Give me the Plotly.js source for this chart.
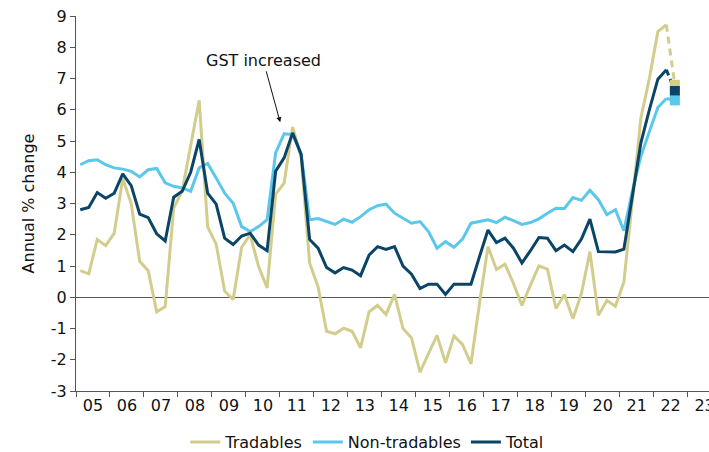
<!DOCTYPE html>
<html>
<head>
<meta charset="utf-8">
<script src="https://cdn.plot.ly/plotly-3.0.1.min.js"></script>
<style>html,body{margin:0;padding:0;background:#fff;}#chart{width:709px;height:452px;}</style>
</head>
<body>
<div id="chart"></div>
<script>
// Quarterly annual % change, 2005 Q1 to 2022 Q2
const startYear = 2005;
const tradables = [
  0.85, 0.75, 1.85, 1.65,
  2.05, 3.8, 3.0, 1.15,
  0.85, -0.47, -0.3, 2.85,
  3.4, 4.8, 6.3, 2.25,
  1.7, 0.2, -0.07, 1.6,
  2.0, 0.98, 0.3, 3.3,
  3.65, 5.45, 4.5, 1.1,
  0.33, -1.09, -1.17, -0.99,
  -1.09, -1.62, -0.47, -0.26,
  -0.55, 0.09, -1.0, -1.3,
  -2.4, -1.8, -1.22, -2.1,
  -1.24, -1.51, -2.13, -0.2,
  1.62, 0.89, 1.06, 0.44,
  -0.26, 0.39, 1.0, 0.9,
  -0.36, 0.09, -0.69, 0.12,
  1.46, -0.58, -0.1, -0.29,
  0.49, 3.1, 5.74, 7.0,
  8.5, 8.72
];
const nonTradables = [
  4.24, 4.37, 4.4, 4.24,
  4.14, 4.1, 4.03, 3.85,
  4.08, 4.12, 3.66, 3.55,
  3.5, 3.39, 4.14, 4.28,
  3.82, 3.33, 3.01, 2.26,
  2.1, 2.26, 2.48, 4.62,
  5.23, 5.21, 4.6, 2.48,
  2.52, 2.42, 2.33, 2.5,
  2.4, 2.58, 2.8, 2.93,
  2.98, 2.69, 2.53, 2.37,
  2.42, 2.1, 1.57, 1.78,
  1.6, 1.86, 2.37, 2.43,
  2.48, 2.39, 2.56, 2.45,
  2.33, 2.39, 2.51, 2.69,
  2.85, 2.84, 3.19, 3.1,
  3.42, 3.12, 2.64, 2.8,
  2.13, 3.4, 4.51, 5.3,
  6.07, 6.36
];
const total = [
  2.8, 2.87, 3.35, 3.17,
  3.33, 3.95, 3.57, 2.66,
  2.55, 2.03, 1.8, 3.2,
  3.39, 4.0, 5.05, 3.33,
  2.98, 1.89, 1.69, 1.96,
  2.05, 1.67, 1.49, 4.03,
  4.46, 5.26, 4.57, 1.85,
  1.57, 0.95, 0.78, 0.95,
  0.87, 0.69, 1.35, 1.62,
  1.53, 1.62, 1.0, 0.74,
  0.28, 0.42, 0.42, 0.09,
  0.42, 0.42, 0.42, 1.3,
  2.15, 1.75, 1.89, 1.57,
  1.1, 1.49, 1.91, 1.89,
  1.49, 1.67, 1.46, 1.86,
  2.5, 1.46, 1.45, 1.45,
  1.54, 3.3, 4.94, 6.0,
  6.98, 7.28
];
// September 2022 quarter estimates
const estTradables = 6.8;
const estNonTradables = 6.3;
const estTotal = 6.6;

const yearLabels = ['05','06','07','08','09','10','11','12','13','14','15','16','17','18','19','20','21','22','23'];
const yTicks = [-3,-2,-1,0,1,2,3,4,5,6,7,8,9];

const cTan = '#D3CD8D', cLight = '#5BC7EA', cDark = '#0A4467';
const qx = tradables.map((_, i) => startYear + (i + 0.5) / 4);
const lastX = qx[qx.length - 1];
const estX = lastX + 0.25;
const n = tradables.length - 1;

const traces = [
  {x: qx, y: tradables, name: 'Tradables', mode: 'lines', line: {color: cTan, width: 3}},
  {x: qx, y: nonTradables, name: 'Non-tradables', mode: 'lines', line: {color: cLight, width: 3}},
  {x: qx, y: total, name: 'Total', mode: 'lines', line: {color: cDark, width: 3}},
  {x: [lastX, estX], y: [nonTradables[n], estNonTradables], mode: 'lines', showlegend: false, hoverinfo: 'skip', line: {color: cLight, width: 3, dash: '6px,4px'}},
  {x: [lastX, estX], y: [total[n], estTotal], mode: 'lines', showlegend: false, hoverinfo: 'skip', line: {color: cDark, width: 3, dash: '6px,4px'}},
  {x: [lastX, estX], y: [tradables[n], estTradables], mode: 'lines', showlegend: false, hoverinfo: 'skip', line: {color: cTan, width: 3, dash: '7px,5px'}},
  {x: [estX], y: [estTradables], mode: 'markers', showlegend: false, marker: {symbol: 'square', size: 10, color: cTan}},
  {x: [estX], y: [estTotal], mode: 'markers', showlegend: false, marker: {symbol: 'square', size: 10, color: cDark}},
  {x: [estX], y: [estNonTradables], mode: 'markers', showlegend: false, marker: {symbol: 'square', size: 10, color: cLight}}
];

const font = {family: '"DejaVu Sans", Verdana, sans-serif', size: 16, color: '#111'};

const layout = {
  width: 709, height: 452,
  margin: {l: 76, r: 0, t: 16, b: 61, pad: 0},
  paper_bgcolor: '#fff', plot_bgcolor: '#fff',
  font: font,
  showlegend: true,
  legend: {orientation: 'h', xref: 'container', yref: 'container',
           x: 0.518, xanchor: 'center', y: 0.022, yanchor: 'middle',
           font: font, itemwidth: 30, tracegroupgap: 0, bgcolor: 'rgba(0,0,0,0)'},
  xaxis: {
    range: [startYear, startYear + 18.63],
    automargin: false,
    tickmode: 'array',
    tickvals: yearLabels.map((_, i) => startYear + i + 0.5),
    ticktext: yearLabels,
    ticks: '',
    ticklabeloverflow: 'allow',
    showgrid: false, zeroline: false,
    showline: true, linecolor: '#555', linewidth: 1,
    tickfont: font,
    minor: {tickmode: 'array', tickvals: yearLabels.map((_, i) => startYear + i), ticks: 'outside', ticklen: 5, tickcolor: '#555', tickwidth: 1, showgrid: false},
    fixedrange: true
  },
  yaxis: {
    range: [-3, 9],
    automargin: false,
    tickmode: 'array', tickvals: yTicks, ticktext: yTicks.map(String),
    ticks: 'outside', ticklen: 5, tickcolor: '#555', tickwidth: 1,
    showgrid: false,
    zeroline: true, zerolinecolor: '#555', zerolinewidth: 1,
    showline: true, linecolor: '#555', linewidth: 1,
    tickfont: font,
    title: {text: 'Annual % change', font: font, standoff: 12},
    fixedrange: true
  },
  annotations: [{
    x: startYear + 6.01, y: 5.6, xref: 'x', yref: 'y',
    text: 'GST increased', showarrow: true,
    ax: -17, ay: -62,
    arrowhead: 2, arrowsize: 1, arrowwidth: 1, arrowcolor: '#111',
    font: font
  }]
};

Plotly.newPlot('chart', traces, layout, {displayModeBar: false, staticPlot: true});
</script>
</body>
</html>
